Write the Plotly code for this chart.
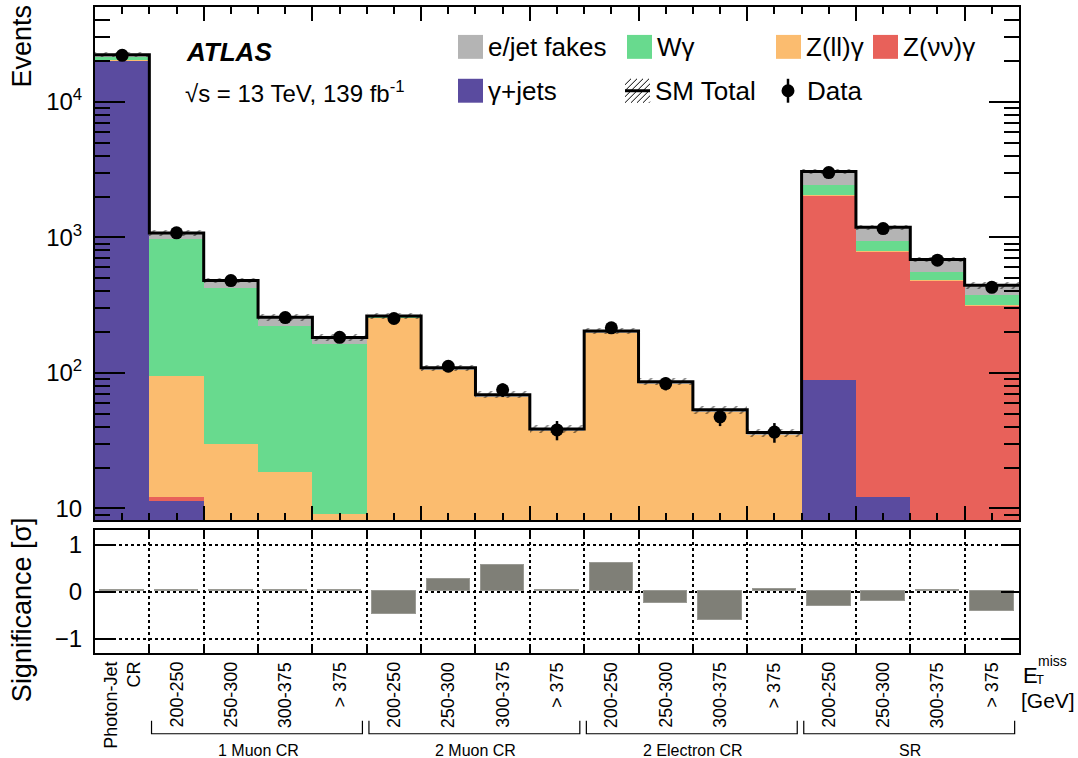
import numpy as np
import plotly.graph_objects as go

# ---------------- data ----------------
bin_labels = ["Photon-Jet<br>CR",
              "200-250", "250-300", "300-375", "> 375",
              "200-250", "250-300", "300-375", "> 375",
              "200-250", "250-300", "300-375", "> 375",
              "200-250", "250-300", "300-375", "> 375"]
group_names = ["1 Muon CR", "2 Muon CR", "2 Electron CR", "SR"]
group_first_bin = [1, 5, 9, 13]
group_last_bin = [4, 8, 12, 16]

gamma_jets = [20150, 11.3, 0, 0, 0, 0, 0, 0, 0, 0, 0, 0, 0, 89, 12.2, 0, 0]
z_nunu     = [100, 0.9, 0, 0, 0, 0, 0, 0, 0, 0, 0, 0, 0, 1960, 772, 480, 314]
z_ll       = [150, 83, 29.9, 18.5, 9.1, 258, 106, 67, 37.5, 199, 83, 51.5, 35.2, 11, 5, 3, 2]
w_gamma    = [1000, 875, 394, 203, 154, 0.5, 0, 0, 0, 0, 0, 0, 0, 380, 157, 70, 59]
fakes      = [800, 105, 57, 36, 19, 4, 3, 2, 1, 5, 3, 2, 1.2, 615, 240, 132, 68]
sm_unc     = [900, 55, 24, 14, 10, 13, 6, 4, 2.5, 10, 5, 3.5, 2.5, 120, 55, 32, 24]
data       = [22000, 1080, 480, 256, 183, 252, 112, 75, 38, 215, 83.4, 47.4, 36.6, 3005, 1160, 678, 428]
significance = [0.03, 0.03, 0.03, 0.03, 0.03, -0.48, 0.27, 0.56, 0.03, 0.60, -0.25, -0.60, 0.04,
                -0.31, -0.20, 0.03, -0.42]

# ---------------- styles ----------------
C_FAKE = "#b4b4b4"
C_WG = "#68da8e"
C_ZLL = "#fbbc6f"
C_ZNN = "#e8615a"
C_GJ = "#5a4b9f"
C_SIG = "#7f7f77"
FONT = "Liberation Sans, Arial, Helvetica, sans-serif"

nb = len(data)
centers = np.arange(nb) + 0.5
edges = np.arange(nb + 1)
total = (np.array(gamma_jets) + np.array(z_nunu) + np.array(z_ll)
         + np.array(w_gamma) + np.array(fakes))
unc = np.array(sm_unc)

fig = go.Figure()

stack = [("γ+jets", gamma_jets, C_GJ), ("Z(νν)γ", z_nunu, C_ZNN),
         ("Z(ll)γ", z_ll, C_ZLL), ("Wγ", w_gamma, C_WG), ("e/jet fakes", fakes, C_FAKE)]
for name, vals, col in stack:
    fig.add_trace(go.Bar(x=centers, y=vals, width=1.0, name=name,
                         marker=dict(color=col, line=dict(width=0)),
                         xaxis="x", yaxis="y", showlegend=False))

# hatched uncertainty band
fig.add_trace(go.Bar(x=centers, y=2 * unc, base=total - unc, width=1.0, name="SM Total unc",
                     marker=dict(color="rgba(0,0,0,0)", line=dict(width=0),
                                 pattern=dict(shape="/", fgcolor="black", bgcolor="rgba(0,0,0,0)",
                                              size=8, solidity=0.2)),
                     xaxis="x", yaxis="y", showlegend=False))

# SM total step line
fig.add_trace(go.Scatter(x=edges, y=np.append(total, total[-1]), mode="lines",
                         line=dict(color="black", width=3, shape="hv"),
                         xaxis="x", yaxis="y", showlegend=False, name="SM Total"))

# data
fig.add_trace(go.Scatter(x=centers, y=data, mode="markers",
                         marker=dict(color="black", size=13),
                         error_y=dict(type="data", array=np.sqrt(data), color="black",
                                      thickness=2.5, width=0),
                         xaxis="x", yaxis="y", showlegend=False, name="Data"))

# significance
fig.add_trace(go.Bar(x=centers, y=significance, width=0.8,
                     marker=dict(color=C_SIG, line=dict(color="#9a9a94", width=1)),
                     xaxis="x2", yaxis="y2", showlegend=False, name="Significance"))

# ---------------- geometry helpers ----------------
L, R, T, B = 95, 59, 5, 105
W, H = 1078, 758
PW, PH = W - L - R, H - T - B


def px(xp):
    return (xp - L) / PW


def py(yp):
    return (H - B - yp) / PH


minor_log = [k * 10 ** n for n in range(0, 5) for k in range(2, 10)]

fig.update_layout(
    width=W, height=H,
    margin=dict(l=L, r=R, t=T, b=B),
    paper_bgcolor="white", plot_bgcolor="rgba(0,0,0,0)",
    barmode="stack", bargap=0,
    font=dict(family=FONT, color="black", size=24),
    xaxis=dict(domain=[0, 1], anchor="y", range=[0, nb], showticklabels=False,
               tickmode="linear", tick0=0, dtick=2, ticks="inside", ticklen=14, tickwidth=1.5,
               tickcolor="black",
               minor=dict(dtick=0.5, tick0=0, ticks="inside", ticklen=7, tickwidth=1.5,
                          tickcolor="black"),
               showline=True, linecolor="black", linewidth=2, mirror="ticks",
               showgrid=False, zeroline=False),
    yaxis=dict(domain=[py(520), 1], anchor="x", type="log", range=[0.912, 4.699],
               tickmode="array", tickvals=[10, 100, 1000, 10000],
               ticktext=["10", "10<sup>2</sup>", "10<sup>3</sup>", "10<sup>4</sup>"],
               ticks="inside", ticklen=30, tickwidth=1.5, tickcolor="black",
               minor=dict(tickmode="array", tickvals=minor_log, ticks="inside", ticklen=15,
                          tickwidth=1.5, tickcolor="black"),
               ticklabelstandoff=6,
               showline=True, linecolor="black", linewidth=2, mirror="ticks",
               showgrid=False, zeroline=False, tickfont=dict(size=24)),
    xaxis2=dict(domain=[0, 1], anchor="y2", range=[0, nb], showticklabels=False,
                tickmode="linear", tick0=0, dtick=1, ticks="inside", ticklen=7, tickwidth=1.5,
                tickcolor="black",
                showgrid=True, griddash="dot", gridcolor="black", gridwidth=1.5,
                showline=True, linecolor="black", linewidth=2, mirror="ticks", zeroline=False),
    yaxis2=dict(domain=[0, py(530)], anchor="x2", range=[-1.3, 1.3],
                tickmode="array", tickvals=[-1, 0, 1], ticktext=["\u22121", "0", "1"],
                ticks="inside", ticklen=18, tickwidth=1.5, tickcolor="black",
                ticklabelstandoff=6,
                showgrid=True, griddash="dot", gridcolor="black", gridwidth=1.5,
                showline=True, linecolor="black", linewidth=2, mirror="ticks",
                zeroline=False, tickfont=dict(size=24)),
)

ann = []
shapes = []

# axis titles
ann.append(dict(text="Events", x=px(22), y=py(1), xref="paper", yref="paper",
                xanchor="center", yanchor="top", textangle=-90, showarrow=False,
                font=dict(size=27)))
ann.append(dict(text="Significance [σ]", x=px(22), y=py(610), xref="paper", yref="paper",
                xanchor="center", yanchor="middle", textangle=-90, showarrow=False,
                font=dict(size=27)))

# ATLAS label
ann.append(dict(text="<b><i>ATLAS</i></b>", x=px(184), y=py(50), xref="paper", yref="paper",
                xanchor="left", yanchor="middle", showarrow=False, font=dict(size=26)))
ann.append(dict(text="\u221As = 13 TeV, 139 fb<sup>-1</sup>", x=px(183), y=py(90),
                xref="paper", yref="paper", xanchor="left", yanchor="middle",
                showarrow=False, font=dict(size=24)))

# legend
legend_boxes = [("e/jet fakes", C_FAKE, 458, 45), ("Wγ", C_WG, 627, 45),
                ("Z(ll)γ", C_ZLL, 776, 45), ("Z(νν)γ", C_ZNN, 873, 45),
                ("γ+jets", C_GJ, 458, 89)]
for txt, col, x0, yc in legend_boxes:
    shapes.append(dict(type="rect", xref="paper", yref="paper",
                       x0=px(x0), x1=px(x0 + 25), y0=py(yc - 12), y1=py(yc + 12),
                       fillcolor=col, line=dict(width=0)))
    ann.append(dict(text=txt, x=px(x0 + 28), y=py(yc), xref="paper", yref="paper",
                    xanchor="left", yanchor="middle", showarrow=False, font=dict(size=26)))

# SM Total legend swatch (hatched with line)
hx0, hx1, hy0, hy1 = 625, 650, 77, 101
for k in range(-4, 5):
    c = hx0 + k * 6
    xa, ya = c, hy1
    xb, yb = c + (hy1 - hy0), hy0
    if xa < hx0:
        ya = hy1 - (hx0 - xa); xa = hx0
    if xb > hx1:
        yb = hy0 + (xb - hx1); xb = hx1
    if xa < xb and ya > yb:
        shapes.append(dict(type="line", xref="paper", yref="paper",
                           x0=px(xa), y0=py(ya), x1=px(xb), y1=py(yb),
                           line=dict(color="black", width=1)))
shapes.append(dict(type="line", xref="paper", yref="paper",
                   x0=px(hx0), x1=px(hx1), y0=py(89), y1=py(89),
                   line=dict(color="black", width=3)))
ann.append(dict(text="SM Total", x=px(653), y=py(89), xref="paper", yref="paper",
                xanchor="left", yanchor="middle", showarrow=False, font=dict(size=26)))

# Data legend symbol
shapes.append(dict(type="line", xref="paper", yref="paper", x0=px(788), x1=px(788),
                   y0=py(77), y1=py(101), line=dict(color="black", width=2.5)))
shapes.append(dict(type="circle", xref="paper", yref="paper",
                   x0=px(781.5), x1=px(794.5), y0=py(95.5), y1=py(82.5),
                   fillcolor="black", line=dict(width=0)))
ann.append(dict(text="Data", x=px(805), y=py(89), xref="paper", yref="paper",
                xanchor="left", yanchor="middle", showarrow=False, font=dict(size=26)))

# bin labels
for i, lab in enumerate(bin_labels):
    ann.append(dict(text=lab, x=centers[i], y=py(660), xref="x2", yref="paper",
                    xanchor="center", yanchor="top", textangle=-90, align="right",
                    showarrow=False, font=dict(size=18)))

# group brackets and labels
for name, b0, b1 in zip(group_names, group_first_bin, group_last_bin):
    xa = edges[b0] + 0.04
    xb = edges[b1 + 1] - 0.08
    shapes.append(dict(type="path", xref="x2", yref="paper",
                       path=f"M {xa},{py(721)} L {xa},{py(734)} L {xb},{py(734)} L {xb},{py(721)}",
                       line=dict(color="black", width=1.2)))
    ann.append(dict(text=name, x=(edges[b0] + edges[b1 + 1]) / 2, y=py(751), xref="x2",
                    yref="paper", xanchor="center", yanchor="middle", showarrow=False,
                    font=dict(size=16)))

# x-axis title
ann.append(dict(text="E", x=px(1021), y=py(676), xref="paper", yref="paper",
                xanchor="left", yanchor="middle", showarrow=False, font=dict(size=22)))
ann.append(dict(text="miss", x=px(1036), y=py(661), xref="paper", yref="paper",
                xanchor="left", yanchor="middle", showarrow=False, font=dict(size=14)))
ann.append(dict(text="T", x=px(1034), y=py(680), xref="paper", yref="paper",
                xanchor="left", yanchor="middle", showarrow=False, font=dict(size=13)))
ann.append(dict(text="[GeV]", x=px(1019), y=py(701), xref="paper", yref="paper",
                xanchor="left", yanchor="middle", showarrow=False, font=dict(size=21)))

fig.update_layout(annotations=ann, shapes=shapes)

fig.write_html("out.html", config={"displayModeBar": False},
               post_script="document.body.style.margin='0';document.body.style.padding='0';"
                           "document.body.style.overflow='hidden';")
